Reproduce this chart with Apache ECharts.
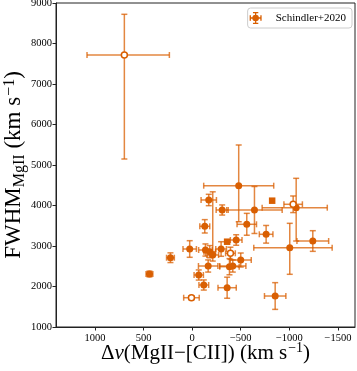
<!DOCTYPE html>
<html>
<head>
<meta charset="utf-8">
<script src="https://cdn.jsdelivr.net/npm/echarts@6/dist/echarts.min.js"></script>
<style>
  html, body { margin: 0; padding: 0; background: #fff; }
  #chart { width: 357px; height: 371px; }
</style>
</head>
<body>
<div id="chart"></div>
<script>
// velocity offset MgII - [CII] (km/s) and FWHM of MgII (km/s)
const dv = [697, 439, 223, -479, -171, -309, -641, -823, -1039, -1070, -562, -130, -761, -453, -360, -1241,
  -1004, 25, -137, -181, -212, -298, -394, -500, -165, -384, -418, -68, -120, -360, 7, -854];
const fwhm = [7716, 2309, 2711, 4489, 4136, 3889, 3889, 4119, 4030, 3946, 3536, 3486, 3289, 3148, 3106, 3123,
  2958, 2926, 2901, 2860, 2778, 2926, 2820, 2654, 2506, 2489, 2506, 2284, 2037, 1970, 1723, 1765];
// errors: towards positive dv (left on the reversed axis) and towards negative dv
const dvErrPos = [384, 35, 40, 360, 79, 62, 285, 0, 95, 350, 100, 51, 70, 60, 0, 163,
  370, 69, 70, 60, 60, 55, 50, 108, 100, 100, 135, 48, 50, 94, 80, 110];
const dvErrNeg = [463, 35, 40, 360, 79, 62, 285, 0, 95, 320, 100, 51, 70, 60, 0, 163,
  436, 69, 70, 60, 60, 55, 50, 108, 100, 100, 135, 48, 50, 94, 80, 110];
const fwhmErrLo = [2568, 70, 120, 890, 140, 125, 580, 0, 205, 823, 270, 165, 218, 130, 0, 255,
  657, 205, 150, 150, 150, 180, 150, 173, 150, 200, 150, 125, 125, 260, 50, 330];
const fwhmErrHi = [1005, 70, 120, 1005, 140, 125, 580, 0, 205, 725, 270, 165, 218, 130, 0, 255,
  602, 205, 150, 150, 1560, 180, 150, 173, 150, 200, 150, 125, 125, 260, 50, 330];
// o = filled circle, e = open circle, s = filled square
const markerKind = ["e", "o", "o", "o", "o", "o", "o", "s", "e", "o", "o", "o", "o", "o", "s", "o",
  "o", "o", "o", "o", "o", "o", "e", "o", "o", "o", "o", "o", "o", "o", "e", "o"];
const xTicks = [-1500, -1000, -500, 0, 500, 1000];

const orange = "#d95f02";
const errColor = "rgba(217,95,2,0.75)";
const serif = "Liberation Serif";

let errRows = [];
for (let i = 0; i < dv.length; i++) {
  errRows.push([dv[i], fwhm[i], dvErrPos[i], dvErrNeg[i], fwhmErrLo[i], fwhmErrHi[i]]);
}
const pick = (kind) => {
  let out = [];
  for (let i = 0; i < dv.length; i++) {
    if (markerKind[i] == kind) out.push([dv[i], fwhm[i]]);
  }
  return out;
};

const seg = (x1, y1, x2, y2) => ({
  type: "line",
  shape: { x1: x1, y1: y1, x2: x2, y2: y2 },
  style: { stroke: errColor, lineWidth: 1.5 },
});

const renderErr = (params, api) => {
  const x = api.value(0), y = api.value(1);
  const c = api.coord([x, y]);
  const cap = 3;
  let kids = [];
  if (api.value(2) > 0 || api.value(3) > 0) {
    const a = api.coord([x + api.value(2), y])[0];
    const b = api.coord([x - api.value(3), y])[0];
    kids.push(seg(a, c[1], b, c[1]), seg(a, c[1] - cap, a, c[1] + cap), seg(b, c[1] - cap, b, c[1] + cap));
  }
  if (api.value(4) > 0 || api.value(5) > 0) {
    const lo = api.coord([x, y - api.value(4)])[1];
    const hi = api.coord([x, y + api.value(5)])[1];
    kids.push(seg(c[0], lo, c[0], hi), seg(c[0] - cap, lo, c[0] + cap, lo), seg(c[0] - cap, hi, c[0] + cap, hi));
  }
  return { type: "group", children: kids };
};

const legendIcon =
  "path://M1,9h18v2h-18z M1,6h2v8h-2z M17,6h2v8h-2z M9,1h2v18h-2z M6,1h8v2h-8z M6,17h8v2h-8z " +
  "M5,10a5,5 0 1,1 10,0a5,5 0 1,1 -10,0z";

const fmt = (v) => (v < 0 ? "\u2212" + Math.abs(v) : String(v));

const makeRich = (size) => ({
  m: { fontFamily: serif, fontSize: size, color: "#000", lineHeight: 28 },
  i: { fontFamily: serif, fontSize: size, fontStyle: "italic", color: "#000", lineHeight: 28 },
  sub: { fontFamily: serif, fontSize: Math.round(size * 0.68), color: "#000", verticalAlign: "bottom" },
  sup: { fontFamily: serif, fontSize: Math.round(size * 0.68), color: "#000", verticalAlign: "top", padding: [2, 0, 0, 1] },
});

let chart = echarts.init(document.getElementById("chart"), null, { renderer: "canvas" });
let option = {
  animation: false,
  grid: {
    left: 56, right: 2, top: 3, bottom: 44,
    containLabel: false,
    outerBoundsMode: "none",
    show: true, borderColor: "#222", borderWidth: 1,
  },
  legend: {
    right: 5, top: 8,
    data: [{ name: "Schindler+2020", icon: legendIcon }],
    itemWidth: 22, itemHeight: 12,
    padding: [4, 6, 4, 2],
    borderColor: "#ccc", borderWidth: 1, borderRadius: 3,
    backgroundColor: "rgba(255,255,255,0.8)",
    selectedMode: false,
    itemStyle: { color: orange, borderWidth: 0 },
    textStyle: { fontFamily: serif, fontSize: 11, color: "#000", padding: [0, 0, 0, 4] },
  },
  xAxis: {
    type: "value",
    inverse: true,
    min: -1675, max: 1400,
    splitLine: { show: false },
    axisLine: { show: true, onZero: false, lineStyle: { color: "#222", width: 1 } },
    axisTick: { show: true, length: 3.5, lineStyle: { color: "#222" }, customValues: xTicks },
    axisLabel: {
      customValues: xTicks, formatter: fmt, margin: 6,
      fontFamily: serif, fontSize: 10.5, color: "#000",
    },
    name: "{m|\u0394}{i|v}{m|(MgII\u2212[CII]) (km s}{sup|\u22121}{m|)}",
    nameLocation: "middle",
    nameGap: 12,
    nameMoveOverlap: false,
    nameTextStyle: { rich: makeRich(21) },
  },
  yAxis: {
    type: "value",
    min: 1000, max: 9000, interval: 1000,
    splitLine: { show: false },
    axisLine: { show: true, onZero: false, lineStyle: { color: "#222", width: 1 } },
    axisTick: { show: true, length: 3.5, lineStyle: { color: "#222" } },
    axisLabel: {
      margin: 4, showMinLabel: true, showMaxLabel: true, formatter: fmt,
      fontFamily: serif, fontSize: 10.5, color: "#000",
    },
    name: "{m|FWHM}{sub|MgII}{m| (km s}{sup|\u22121}{m|)}",
    nameLocation: "middle",
    nameRotate: 90,
    nameGap: 28,
    nameMoveOverlap: false,
    nameTextStyle: { rich: makeRich(23) },
  },
  series: [
    {
      type: "custom",
      name: "errors",
      renderItem: renderErr,
      data: errRows,
      encode: { x: 0, y: 1 },
      z: 2,
      silent: true,
    },
    {
      type: "scatter",
      name: "Schindler+2020",
      symbol: "circle",
      symbolSize: 7,
      data: pick("o"),
      itemStyle: { color: orange, opacity: 1 },
      z: 3,
    },
    {
      type: "scatter",
      name: "open",
      symbol: "circle",
      symbolSize: 6,
      data: pick("e"),
      itemStyle: { color: "#fff", borderColor: orange, borderWidth: 1.5, opacity: 1 },
      z: 3,
    },
    {
      type: "scatter",
      name: "square",
      symbol: "rect",
      symbolSize: 6.5,
      data: pick("s"),
      itemStyle: { color: orange, opacity: 1 },
      z: 3,
    },
  ],
};
chart.setOption(option);
</script>
</body>
</html>
